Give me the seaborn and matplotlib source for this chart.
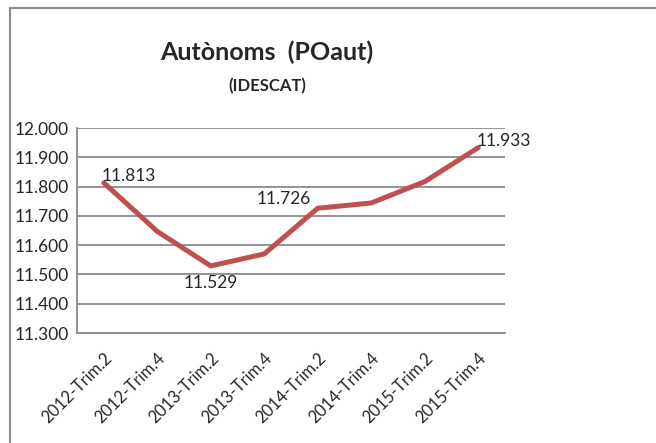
import matplotlib
matplotlib.use('Agg')
import matplotlib.pyplot as plt
import seaborn as sns
import pandas as pd
from matplotlib.patches import Rectangle

periods = ['2012-Trim.2', '2012-Trim.4', '2013-Trim.2', '2013-Trim.4',
           '2014-Trim.2', '2014-Trim.4', '2015-Trim.2', '2015-Trim.4']
values = [11.813, 11.647, 11.529, 11.570, 11.726, 11.744, 11.817, 11.933]
labelled = {0: '11.813', 2: '11.529', 4: '11.726', 7: '11.933'}
yticks = [11.3, 11.4, 11.5, 11.6, 11.7, 11.8, 11.9, 12.0]

sns.set_style('white')
plt.rcParams['font.family'] = ['Lato', 'DejaVu Sans']

df = pd.DataFrame({'period': periods, 'value': values})

fig = plt.figure(figsize=(6.56, 4.43), dpi=100)
# outer chart frame, cut off at the right and bottom like the screenshot
fig.patches.append(Rectangle((10 / 656, -0.1), 1.2, 1 - 8 / 443 + 0.1,
                             transform=fig.transFigure, fill=False,
                             edgecolor='#8c8c8c', linewidth=1.5))
ax = fig.add_axes([77 / 656, 1 - 333 / 443, 428 / 656, 205 / 443])

sns.lineplot(data=df, x='period', y='value', ax=ax, color='#C0504D',
             linewidth=3.6, sort=False)

ax.set_xlim(-0.5, 7.5)
ax.set_ylim(11.3, 12.0)
ax.set_yticks(yticks)
ax.set_yticklabels([f'{v:.3f}' for v in yticks], fontsize=12.5)
ax.yaxis.grid(True, color='#8a8a8a', linewidth=1.3)
ax.set_axisbelow(True)
ax.set_xlabel('')
ax.set_ylabel('')

ax.set_xticks(range(len(periods)))
ax.set_xticklabels(periods, rotation=45, ha='right', rotation_mode='anchor',
                   fontsize=12)
ax.set_xticks([i - 0.5 for i in range(len(periods) + 1)], minor=True)
ax.tick_params(axis='x', which='major', length=0, pad=12)
ax.tick_params(axis='x', which='minor', length=5, color='#8a8a8a', width=1.3)
ax.tick_params(axis='y', length=5, color='#8a8a8a', width=1.3, pad=1)

for side in ['top', 'right']:
    ax.spines[side].set_visible(False)
for side in ['left', 'bottom']:
    ax.spines[side].set_color('#8a8a8a')
    ax.spines[side].set_linewidth(1.3)

offsets = {0: (-1.5, 5, 'left', 'center'), 2: (0, -12.5, 'center', 'center'),
           4: (-24.5, 7, 'center', 'center'), 7: (-1.5, 4.5, 'left', 'center')}
for i, txt in labelled.items():
    dx, dy, ha, va = offsets[i]
    ax.annotate(txt, (i, values[i]), xytext=(dx, dy), textcoords='offset points',
                ha=ha, va=va, fontsize=12.5, annotation_clip=False)

fig.text(267 / 656, 1 - 52 / 443, 'Autònoms  (POaut)', ha='center', va='center',
         fontsize=18, fontweight='bold')
fig.text(267 / 656, 1 - 86 / 443, '(IDESCAT)', ha='center', va='center',
         fontsize=12, fontweight='bold')

fig.savefig('out.png', dpi=100)
